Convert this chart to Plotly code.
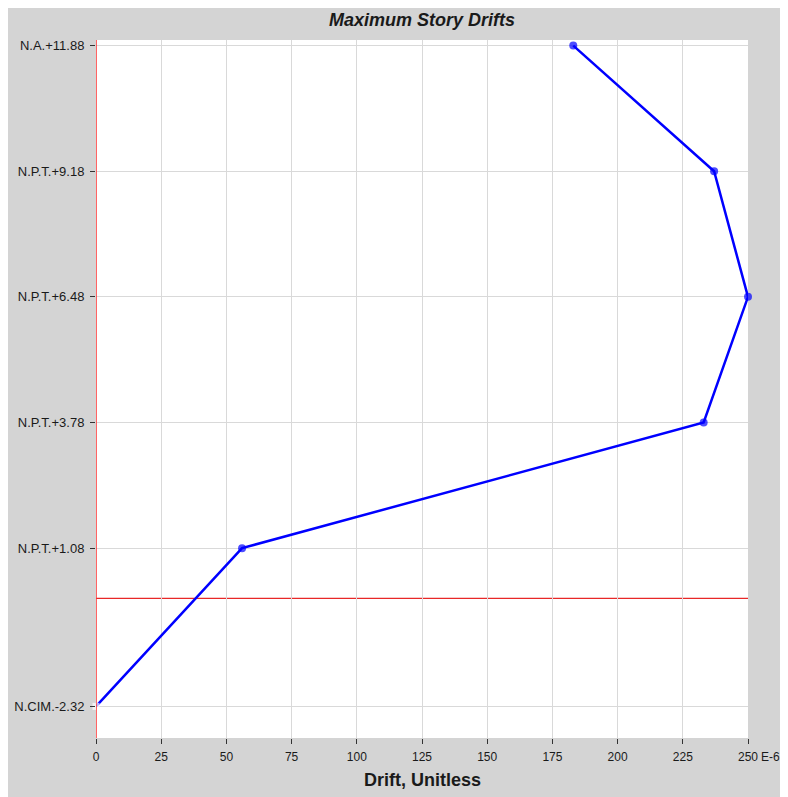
import plotly.graph_objects as go

level_labels = ["N.CIM.-2.32", "N.P.T.+1.08", "N.P.T.+3.78", "N.P.T.+6.48", "N.P.T.+9.18", "N.A.+11.88"]
elevations = [-2.32, 1.08, 3.78, 6.48, 9.18, 11.88]
drift = [0, 56, 233, 250, 237, 183]
x_ticks = [0, 25, 50, 75, 100, 125, 150, 175, 200, 225, 250]

FONT = "Liberation Sans, Arial, sans-serif"
# page body has an 8px margin, so the figure occupies 780x789 of the 788x797 window
W, H = 780, 789
L, R, T, B = 88, 40, 32, 59
pw = W - L - R
ph = H - T - B

fig = go.Figure()
fig.add_trace(go.Scatter(
    x=drift, y=elevations, mode="lines+markers",
    line=dict(color="#0000ff", width=2.5),
    marker=dict(color=["#ffffff"] + ["#0000ff"] * (len(drift) - 1),
                symbol=["square"] + ["circle"] * (len(drift) - 1),
                size=[7] + [8] * (len(drift) - 1), line=dict(width=0)),
    cliponaxis=False, showlegend=False,
))

shapes = [
    dict(type="line", xref="x", yref="y", x0=0, x1=250, y0=0, y1=0,
         line=dict(color="#e82828", width=1.2), layer="below"),
    dict(type="line", xref="x", yref="paper", x0=0, x1=0, y0=0, y1=1,
         line=dict(color="#ff3030", width=1.5), layer="above"),
]

fig.update_layout(
    width=W, height=H,
    margin=dict(l=L, r=R, t=T, b=B, autoexpand=False),
    paper_bgcolor="#d4d4d4", plot_bgcolor="white",
    font=dict(family=FONT, size=12, color="#1a1a1a"),
    title=dict(text="Maximum Story Drifts", x=(L + pw / 2) / W, xanchor="center",
               y=1 - 12 / H, yanchor="middle",
               font=dict(family=FONT, size=18, color="#1a1a1a", style="italic", weight="bold")),
    xaxis=dict(range=[0, 250], tickvals=x_ticks, ticktext=[str(v) for v in x_ticks],
               showgrid=True, gridcolor="#d9d9d9", gridwidth=1, zeroline=False,
               ticks="outside", ticklen=5, tickcolor="#333", tickwidth=1,
               ticklabelstandoff=3, automargin=False,
               showline=False, tickfont=dict(size=12)),
    yaxis=dict(range=[-3.0, 12.0], tickvals=elevations, ticktext=level_labels,
               showgrid=True, gridcolor="#d9d9d9", gridwidth=1, zeroline=False,
               ticks="outside", ticklen=5, tickcolor="#333", tickwidth=1,
               ticklabelstandoff=3, automargin=False,
               showline=False, tickfont=dict(size=13)),
    shapes=shapes,
    annotations=[
        dict(text="E-6", xref="paper", yref="paper", x=1 + 11 / pw, y=-19 / ph,
             xanchor="left", yanchor="middle", showarrow=False,
             font=dict(family=FONT, size=12, color="#1a1a1a")),
        dict(text="Drift, Unitless", xref="paper", yref="paper", x=0.5, y=-42 / ph,
             xanchor="center", yanchor="middle", showarrow=False,
             font=dict(family=FONT, size=18, weight="bold", color="#1a1a1a")),
    ],
)

fig.write_html("out.html", config={"displayModeBar": False})
